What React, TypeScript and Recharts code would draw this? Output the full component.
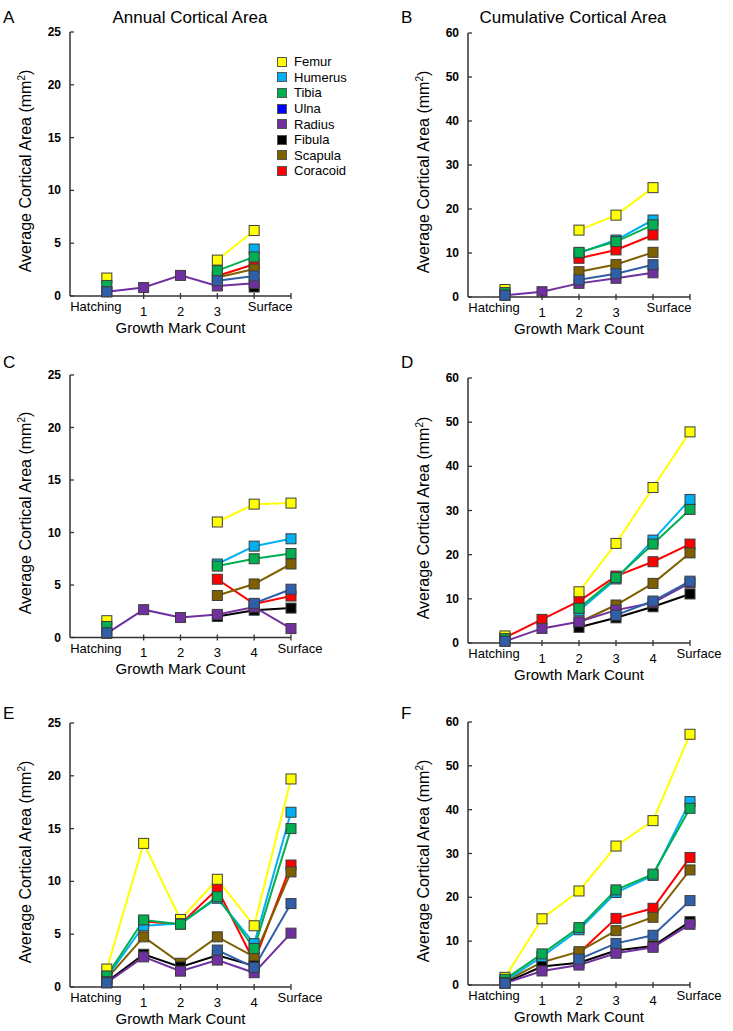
import React from 'react';
import { LineChart, Line, XAxis, YAxis } from 'recharts';

const bones = ['Femur', 'Humerus', 'Tibia', 'Ulna', 'Radius', 'Fibula', 'Scapula', 'Coracoid'];
const drawOrder = ['Coracoid', 'Scapula', 'Femur', 'Humerus', 'Tibia', 'Fibula', 'Radius', 'Ulna'];
const catsThree = ['Hatching', '1', '2', '3', 'Surface'];
const catsFour = ['Hatching', '1', '2', '3', '4', 'Surface'];
const annualTicks = [0, 5, 10, 15, 20, 25];
const cumulativeTicks = [0, 10, 20, 30, 40, 50, 60];

type S = Record<string, (number | null)[]>;

// A: annual, 3 growth marks
const panelA: S = {
  Femur: [1.7, null, null, 3.4, 6.2],
  Humerus: [null, null, null, null, 4.45],
  Tibia: [1.0, null, null, 2.4, 3.7],
  Ulna: [0.4, null, null, 1.45, 1.9],
  Radius: [0.4, 0.8, 1.95, 0.95, 1.2],
  Fibula: [null, null, null, null, 0.85],
  Scapula: [null, null, null, 1.75, 2.55],
  Coracoid: [null, null, null, 1.9, 3.0],
};
// B: cumulative, 3 growth marks
const panelB: S = {
  Femur: [1.7, null, 15.2, 18.6, 24.85],
  Humerus: [null, null, 10.0, 12.95, 17.5],
  Tibia: [1.0, null, 10.15, 12.6, 16.4],
  Ulna: [0.4, null, 3.9, 5.3, 7.35],
  Radius: [0.4, 1.2, 3.1, 4.25, 5.5],
  Fibula: [null, null, null, null, null],
  Scapula: [null, null, 5.75, 7.4, 10.15],
  Coracoid: [null, null, 8.8, 10.7, 14.1],
};
// C: annual, 4 growth marks
const panelC: S = {
  Femur: [1.6, null, null, 11.0, 12.7, 12.8],
  Humerus: [null, null, null, 7.0, 8.7, 9.4],
  Tibia: [1.05, null, null, 6.8, 7.5, 8.0],
  Ulna: [0.45, null, null, null, 3.25, 4.6],
  Radius: [0.4, 2.65, 1.9, 2.2, 2.9, 0.85],
  Fibula: [null, null, null, 2.0, 2.6, 2.8],
  Scapula: [null, null, null, 4.0, 5.1, 7.0],
  Coracoid: [null, null, null, 5.55, 3.2, 3.95],
};
// D: cumulative, 4 growth marks
const panelD: S = {
  Femur: [1.6, null, 11.6, 22.55, 35.2, 47.8],
  Humerus: [null, null, 7.3, 14.5, 23.3, 32.5],
  Tibia: [1.0, null, 7.85, 14.8, 22.4, 30.25],
  Ulna: [0.4, null, null, 6.3, 9.5, 14.0],
  Radius: [0.4, 3.3, 4.8, 7.45, 9.1, 13.6],
  Fibula: [null, null, 3.55, 5.7, 8.2, 11.1],
  Scapula: [null, null, 4.7, 8.6, 13.5, 20.4],
  Coracoid: [1.2, 5.35, 9.5, 15.15, 18.4, 22.4],
};
// E: annual, 4+ growth marks
const panelE: S = {
  Femur: [1.7, 13.6, 6.4, 10.2, 5.8, 19.7],
  Humerus: [0.9, 5.8, 6.0, 8.4, 4.1, 16.55],
  Tibia: [1.05, 6.35, 5.95, 8.55, 3.65, 15.0],
  Ulna: [0.4, null, null, 3.5, 1.85, 7.9],
  Radius: [0.4, 2.85, 1.5, 2.55, 1.35, 5.1],
  Fibula: [0.5, 3.1, 1.9, 3.0, 2.0, null],
  Scapula: [0.8, 4.75, 2.25, 4.75, 2.85, 10.9],
  Coracoid: [null, 6.2, 5.95, 9.3, 2.4, 11.55],
};
// F: cumulative, 4+ growth marks
const panelF: S = {
  Femur: [1.75, 15.1, 21.45, 31.7, 37.5, 57.2],
  Humerus: [0.9, 6.45, 12.6, 21.1, 25.0, 41.85],
  Tibia: [1.3, 7.1, 13.1, 21.7, 25.3, 40.3],
  Ulna: [0.4, null, 5.9, 9.5, 11.35, 19.25],
  Radius: [0.4, 3.2, 4.55, 7.25, 8.6, 13.85],
  Fibula: [0.5, 4.2, 5.1, 7.85, 8.9, 14.45],
  Scapula: [0.8, 5.2, 7.6, 12.4, 15.45, 26.25],
  Coracoid: [null, null, 7.3, 15.2, 17.5, 29.1],
};

const lineColors: Record<string, string> = {
  Femur: '#FFFF00',
  Humerus: '#00B0F0',
  Tibia: '#00B050',
  Ulna: '#2F5FA8',
  Radius: '#7030A0',
  Fibula: '#000000',
  Scapula: '#7F6000',
  Coracoid: '#FF0000',
};
const legendColors: Record<string, string> = { ...lineColors, Ulna: '#0000FF' };

const FONT = '"Liberation Sans", Arial, Helvetica, sans-serif';
const AXIS = '#333333';

function SquareDot(props: any) {
  const { cx, cy, fill, index } = props;
  if (cx == null || cy == null || props.value == null) return <g key={`e${index}`} />;
  return (
    <rect key={`d${index}`} x={cx - 5} y={cy - 5} width={10} height={10} fill={fill} stroke="#3d3d3d" strokeWidth={1} />
  );
}

interface PanelProps {
  cats: string[];
  series: S;
  yMax: number;
  yTicks: number[];
  left: number;
  width: number;
  plotLeft: number;
  plotRight: number;
  plotTop: number;
  plotBottom: number;
  surfaceOffset: number;
}

function Panel(p: PanelProps) {
  const data = p.cats.map((c, i) => {
    const row: any = { x: i + 1, cat: c };
    bones.forEach((b) => {
      row[b] = p.series[b][i];
    });
    return row;
  });
  const chartTop = p.plotTop - 20;
  const height = p.plotBottom - p.plotTop + 20 + 50;
  const yAxisW = 30;
  const marginLeft = p.plotLeft - p.left - yAxisW;
  const marginRight = p.left + p.width - p.plotRight;

  const xTick = (tp: any) => {
    const { x, y, payload } = tp;
    const v = payload.value as number;
    const idx = v - 1;
    const label = p.cats[idx];
    let txt: React.ReactNode = null;
    if (label === 'Hatching') {
      txt = (
        <text x={x - 11} y={y + 15} textAnchor="middle" fontSize={13} fontFamily={FONT} fill="#000">
          Hatching
        </text>
      );
    } else if (label === 'Surface') {
      txt = (
        <text x={x + p.surfaceOffset} y={y + 15} textAnchor="middle" fontSize={13} fontFamily={FONT} fill="#000">
          Surface
        </text>
      );
    } else if (label != null) {
      txt = (
        <text x={x} y={y + 19.5} textAnchor="middle" fontSize={13} fontFamily={FONT} fill="#000">
          {label}
        </text>
      );
    }
    return (
      <g key={`xt${v}`}>
        {v >= 2 && <line x1={x} x2={x} y1={y - 3} y2={y + 3} stroke={AXIS} strokeWidth={1.3} />}
        {txt}
      </g>
    );
  };

  const yTick = (tp: any) => {
    const { x, y, payload } = tp;
    return (
      <g key={`yt${payload.value}`}>
        <line x1={x} x2={x + 4} y1={y} y2={y} stroke={AXIS} strokeWidth={1.3} />
        <text x={x - 9} y={y + 4} textAnchor="end" fontSize={12} fontWeight="bold" fontFamily={FONT} fill="#000">
          {payload.value}
        </text>
      </g>
    );
  };

  return (
    <div style={{ position: 'absolute', left: p.left, top: chartTop }}>
      <LineChart
        width={p.width}
        height={height}
        data={data}
        margin={{ top: 20, left: marginLeft, right: marginRight, bottom: 20 }}
      >
        <XAxis
          type="number"
          dataKey="x"
          domain={[0, 6]}
          ticks={[1, 2, 3, 4, 5, 6]}
          interval={0}
          height={30}
          tickSize={0}
          tickMargin={0}
          tickLine={false}
          tick={xTick}
          axisLine={{ stroke: AXIS, strokeWidth: 1.5 }}
        />
        <YAxis
          type="number"
          domain={[0, p.yMax]}
          ticks={p.yTicks}
          interval={0}
          width={yAxisW}
          tickSize={0}
          tickMargin={0}
          tickLine={false}
          tick={yTick}
          axisLine={{ stroke: AXIS, strokeWidth: 1.5 }}
        />
        {drawOrder.map((b) => (
          <Line
            key={b}
            dataKey={b}
            type="linear"
            stroke={lineColors[b]}
            strokeWidth={2}
            fill={lineColors[b]}
            dot={(dp: any) => <SquareDot {...dp} fill={lineColors[b]} />}
            activeDot={false}
            isAnimationActive={false}
            connectNulls={false}
          />
        ))}
      </LineChart>
    </div>
  );
}

function Txt(props: { x: number; y: number; size: number; children: React.ReactNode; rotate?: boolean; bold?: boolean; anchor?: 'left' | 'center' }) {
  const { x, y, size, rotate, bold, anchor = 'center' } = props;
  const tx = anchor === 'center' ? '-50%' : '0';
  return (
    <div
      style={{
        position: 'absolute',
        left: x,
        top: y,
        transform: `translate(${tx}, -50%)${rotate ? ' rotate(-90deg)' : ''}`,
        transformOrigin: anchor === 'center' ? 'center' : 'left center',
        whiteSpace: 'nowrap',
        fontSize: size,
        fontWeight: bold ? 'bold' : 'normal',
        fontFamily: FONT,
        lineHeight: 1,
        color: '#000',
      }}
    >
      {props.children}
    </div>
  );
}

const YLabel = () => (
  <span>
    Average Cortical Area (mm<span style={{ fontSize: 10, verticalAlign: '6px' }}>2</span>)
  </span>
);

export default function App() {
  const leftGeom = { left: 0, width: 366, plotLeft: 70, plotRight: 291 };
  const rightGeom = { left: 366, width: 367, plotLeft: 468, plotRight: 690 };
  const panels = [
    { s: panelA, cats: catsThree, yMax: 25, ticks: annualTicks, g: leftGeom, top: 32, bottom: 296, letterY: 17, so: 16 },
    { s: panelB, cats: catsThree, yMax: 60, ticks: cumulativeTicks, g: rightGeom, top: 33, bottom: 297, letterY: 17, so: 16 },
    { s: panelC, cats: catsFour, yMax: 25, ticks: annualTicks, g: leftGeom, top: 374.5, bottom: 637, letterY: 362, so: 9 },
    { s: panelD, cats: catsFour, yMax: 60, ticks: cumulativeTicks, g: rightGeom, top: 378, bottom: 643, letterY: 362, so: 9 },
    { s: panelE, cats: catsFour, yMax: 25, ticks: annualTicks, g: leftGeom, top: 723, bottom: 987, letterY: 713, so: 9 },
    { s: panelF, cats: catsFour, yMax: 60, ticks: cumulativeTicks, g: rightGeom, top: 722, bottom: 985, letterY: 713, so: 9 },
  ];
  const letters = ['A', 'B', 'C', 'D', 'E', 'F'];
  return (
    <div style={{ position: 'absolute', left: 0, top: 0, width: 733, height: 1031, background: '#fff', overflow: 'hidden' }}>
      {panels.map((pn, i) => (
        <Panel
          key={i}
          cats={pn.cats}
          series={pn.s}
          yMax={pn.yMax}
          yTicks={pn.ticks}
          left={pn.g.left}
          width={pn.g.width}
          plotLeft={pn.g.plotLeft}
          plotRight={pn.g.plotRight}
          plotTop={pn.top}
          plotBottom={pn.bottom}
          surfaceOffset={pn.so}
        />
      ))}
      {panels.map((pn, i) => {
        const cx = (pn.g.plotLeft + pn.g.plotRight) / 2;
        const cy = (pn.top + pn.bottom) / 2;
        return (
          <React.Fragment key={`t${i}`}>
            <Txt x={i % 2 === 0 ? 3 : 401} y={pn.letterY} size={17} anchor="left">
              {letters[i]}
            </Txt>
            <Txt x={cx} y={pn.bottom + 31} size={15}>
              Growth Mark Count
            </Txt>
            <Txt x={pn.g.plotLeft - 45} y={cy + 7} size={16} rotate>
              <YLabel />
            </Txt>
          </React.Fragment>
        );
      })}
      <Txt x={190} y={17} size={17}>
        Annual Cortical Area
      </Txt>
      <Txt x={573} y={17} size={17}>
        Cumulative Cortical Area
      </Txt>
      <div style={{ position: 'absolute', left: 277, top: 54, fontFamily: FONT, fontSize: 13 }}>
        {bones.map((b) => (
          <div key={b} style={{ display: 'flex', alignItems: 'center', height: 15.6 }}>
            <div
              style={{
                width: 10,
                height: 10,
                boxSizing: 'border-box',
                background: legendColors[b],
                border: '1px solid #555',
                marginRight: 7,
              }}
            />
            <span style={{ lineHeight: 1 }}>{b}</span>
          </div>
        ))}
      </div>
    </div>
  );
}
